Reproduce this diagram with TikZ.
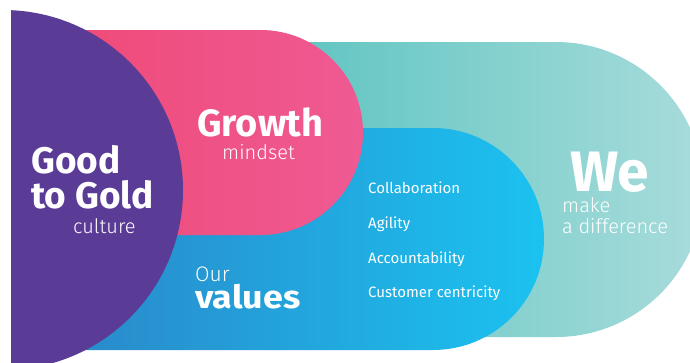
\documentclass[tikz,border=0pt]{standalone}
\usepackage{fontspec}
\setmainfont{Fira Sans}
\newfontfamily\boldf{Fira Sans Bold}
\newfontfamily\boldwide{Fira Sans Bold}[FakeStretch=1.12]
\newfontfamily\lightf{Fira Sans Light}
\definecolor{gtgpurple}{HTML}{5A3B96}
\definecolor{pinkL}{HTML}{EF4A78}
\definecolor{pinkR}{HTML}{EF5A93}
\definecolor{blueL}{HTML}{2A88C9}
\definecolor{blueR}{HTML}{1BC2F0}
\definecolor{tealL}{HTML}{5CC4C0}
\definecolor{tealR}{HTML}{A8DCDB}
\tikzset{
  big/.style={text=white, inner sep=0pt, anchor=base west, font=\boldf\fontsize{37}{37}\selectfont},
  thin/.style={text=white, inner sep=0pt, anchor=base west, font=\lightf\fontsize{20}{20}\selectfont},
  item/.style={text=white, inner sep=0pt, anchor=base west, font=\fontsize{15}{15}\selectfont},
}
\begin{document}
\begin{tikzpicture}[x=1pt,y=1pt]
\path[use as bounding box] (0,0) rectangle (690,-362);
\begin{scope}
\clip (0,0) rectangle (690,-362);
% teal pill
\shade[left color=tealL, right color=tealR]
  (270,-42) -- (556,-42) arc[start angle=90, end angle=-90, radius=147.5] -- (270,-337) -- cycle;
% blue pill
\shade[left color=blueL, right color=blueR]
  (60,-128) -- (433,-128) arc[start angle=90, end angle=-90, radius=111] -- (60,-350) -- cycle;
% pink pill
\shade[left color=pinkL, right color=pinkR]
  (60,-30) -- (260.5,-30) arc[start angle=90, end angle=-90, radius=102.5] -- (60,-235) -- cycle;
% purple circle
\begin{scope}
\clip (11,0) rectangle (690,-362);
\fill[gtgpurple] (3,-190) circle[radius=180];
\end{scope}
\end{scope}
% texts
\node[big] (good) at (31,-173) {Good};
\node[big] (togold) at (31,-208) {to Gold};
\node[thin] (culture) at (73,-233) {culture};
\node[big, font=\boldf\fontsize{38}{38}\selectfont] (growth) at (197,-136) {Growth};
\node[thin] (mindset) at (222,-159) {mindset};
\node[thin, font=\lightf\fontsize{21}{21}\selectfont] (our) at (195,-281) {Our};
\node[big, font=\boldwide\fontsize{32}{32}\selectfont] (values) at (195,-308) {values};
\node[item] (i1) at (368,-193) {Collaboration};
\node[item] (i2) at (368,-228) {Agility};
\node[item] (i3) at (368,-263) {Accountability};
\node[item] (i4) at (368,-297) {Customer centricity};
\node[big, font=\boldf\fontsize{57}{57}\selectfont] (we) at (570,-191) {We};
\node[thin] (make) at (562,-212) {make};
\node[thin] (diff) at (562,-233) {a difference};
\end{tikzpicture}
\end{document}
